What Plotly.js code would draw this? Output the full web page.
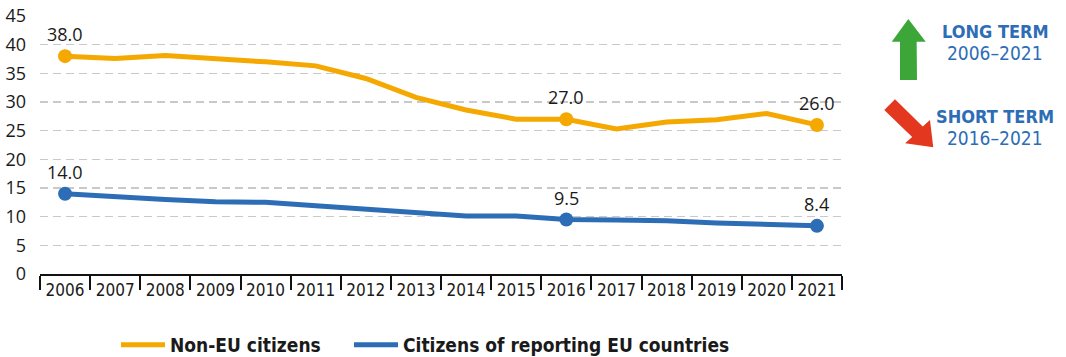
<!DOCTYPE html>
<html>
<head>
<meta charset="utf-8">
<script src="https://cdn.plot.ly/plotly-3.0.1.min.js"></script>
<style>
  html, body { margin: 0; padding: 0; background: #ffffff; }
  #chart { width: 1066px; height: 357px; }
</style>
</head>
<body>
<div id="chart"></div>
<script>
// ---- Data ----
const years = ["2006","2007","2008","2009","2010","2011","2012","2013","2014","2015","2016","2017","2018","2019","2020","2021"];
const nonEU = [38.0, 37.6, 38.1, 37.6, 37.0, 36.3, 34.1, 30.8, 28.6, 27.0, 27.0, 25.3, 26.5, 26.9, 28.0, 26.0];
const citizensEU = [14.0, 13.4, 13.0, 12.6, 12.5, 11.9, 11.3, 10.8, 10.1, 10.1, 9.5, 9.4, 9.3, 8.9, 8.6, 8.4];
const highlightYears = ["2006", "2016", "2021"];
const seriesNames = ["Non-EU citizens", "Citizens of reporting EU countries"];
const yTicks = [0, 5, 10, 15, 20, 25, 30, 35, 40, 45];
const trendTitles = ["LONG TERM", "SHORT TERM"];
const trendPeriods = ["2006–2021", "2016–2021"];

// ---- Styles ----
const ORANGE = "#F5A800";
const BLUE = "#2D6DB6";
const GREEN = "#3DA638";
const RED = "#E3381F";
const TEXT = "#1a1a1a";
const COND = "'Liberation Sans Narrow', 'DejaVu Sans Condensed', 'Arial Narrow', sans-serif";
const REG = "'Open Sans', 'Noto Sans', sans-serif";

const W = 1066, H = 357;
const M = {l: 40, r: 224, t: 16, b: 83, autoexpand: false};
const PW = W - M.l - M.r, PH = H - M.t - M.b;
function px(x) { return (x - M.l) / PW; }
function py(y) { return (H - M.b - y) / PH; }
function pathFrom(points) {
  return points.map((p, i) => (i === 0 ? "M " : "L ") + px(p[0]).toFixed(4) + "," + py(p[1]).toFixed(4)).join(" ") + " Z";
}

const series = [nonEU, citizensEU];
const colors = [ORANGE, BLUE];
const legendIds = ["legend", "legend2"];
const traces = [];
series.forEach((vals, k) => {
  traces.push({
    type: "scatter", mode: "lines", x: years, y: vals, name: seriesNames[k],
    legend: legendIds[k],
    line: {color: colors[k], width: 5}, hoverinfo: "skip"
  });
});
series.forEach((vals, k) => {
  const hx = [], hy = [];
  highlightYears.forEach(yr => { const i = years.indexOf(yr); hx.push(yr); hy.push(vals[i]); });
  traces.push({
    type: "scatter", mode: "markers", x: hx, y: hy, showlegend: false,
    marker: {color: colors[k], size: 14}, hoverinfo: "skip"
  });
});

const annotations = [];
series.forEach((vals) => {
  highlightYears.forEach(yr => {
    const i = years.indexOf(yr);
    annotations.push({
      x: i, y: vals[i], xref: "x", yref: "y", text: vals[i].toFixed(1),
      showarrow: false, yshift: 22, xanchor: "center", yanchor: "middle",
      font: {family: REG, size: 18, color: TEXT}
    });
  });
});
// trend labels
const trendY = [[31, 53], [116, 138]];
trendTitles.forEach((t, k) => {
  annotations.push({
    x: px(995), y: py(trendY[k][0]), xref: "paper", yref: "paper", text: "<b>" + t + "</b>",
    showarrow: false, xanchor: "center", yanchor: "middle",
    font: {family: COND, size: 18, color: BLUE}
  });
  annotations.push({
    x: px(995), y: py(trendY[k][1]), xref: "paper", yref: "paper", text: trendPeriods[k],
    showarrow: false, xanchor: "center", yanchor: "middle",
    font: {family: COND, size: 19, color: BLUE}
  });
});

const shapes = [
  {
    type: "path", xref: "paper", yref: "paper", layer: "above",
    path: pathFrom([[908.3, 19], [925.7, 41.7], [916.7, 41.7], [917, 80], [900, 80], [900, 41.7], [891.7, 41.7]]),
    fillcolor: GREEN, line: {width: 0}
  },
  {
    type: "path", xref: "paper", yref: "paper", layer: "above",
    path: pathFrom([[884.3, 110], [895, 99.3], [922.8, 126.4], [930, 120], [933.3, 147.3], [905, 143.3], [912.2, 137]]),
    fillcolor: RED, line: {width: 0}
  }
];

function legendAt(xPix) {
  return {
    orientation: "h", x: px(xPix), xanchor: "left", y: py(345), yanchor: "middle",
    font: {family: COND, size: 19, color: TEXT, weight: "bold"},
    itemwidth: 44, bgcolor: "rgba(0,0,0,0)"
  };
}

const layout = {
  width: W, height: H,
  margin: M,
  paper_bgcolor: "#ffffff", plot_bgcolor: "#ffffff",
  showlegend: true,
  legend: legendAt(116),
  legend2: legendAt(349),
  xaxis: {
    type: "category", range: [-0.5, years.length - 0.5],
    showgrid: false, zeroline: false,
    showline: true, linecolor: "#111", linewidth: 2,
    ticks: "outside", tickson: "boundaries", ticklen: 14, tickwidth: 2, tickcolor: "#111",
    tickfont: {family: COND, size: 17, color: TEXT},
    fixedrange: true
  },
  yaxis: {
    range: [0, 45], tickvals: yTicks, ticktext: yTicks.map(String),
    showgrid: true, gridcolor: "#c9c9c9", gridwidth: 1.5, griddash: "8px,5px",
    zeroline: false, showline: false, ticks: "",
    ticklabelstandoff: 13,
    tickfont: {family: REG, size: 18, color: TEXT},
    fixedrange: true
  },
  annotations: annotations,
  shapes: shapes
};

Plotly.newPlot("chart", traces, layout, {displayModeBar: false, staticPlot: true});
</script>
</body>
</html>
